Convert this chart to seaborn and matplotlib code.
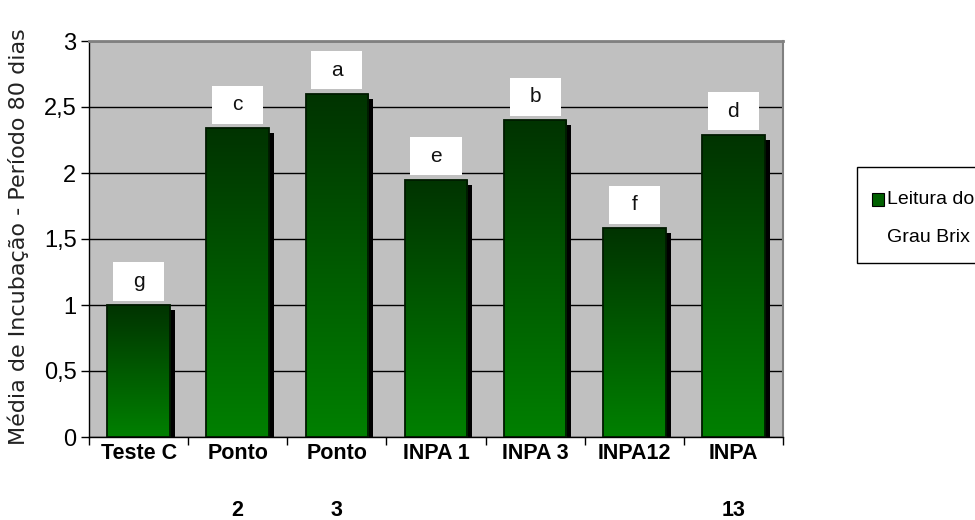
import numpy as np
import pandas as pd
import matplotlib
matplotlib.use("Agg")
import matplotlib.pyplot as plt
import seaborn as sns
from matplotlib.patches import Rectangle
from matplotlib import transforms, font_manager
from matplotlib.colors import LinearSegmentedColormap

# Data
categories = ["Teste C", "Ponto\n2", "Ponto\n3", "INPA 1", "INPA 3", "INPA12", "INPA\n13"]
values = [1.00, 2.34, 2.60, 1.95, 2.40, 1.58, 2.29]
letters = ["g", "c", "a", "e", "b", "f", "d"]
yticks = [0, 0.5, 1, 1.5, 2, 2.5, 3]
ytick_labels = ["0", "0,5", "1", "1,5", "2", "2,5", "3"]
series_name = "Leitura do\nGrau Brix"
ylabel = "Média de Incubação - Período 80 dias"

sns.set_theme(style="white")
installed = {f.name for f in font_manager.fontManager.ttflist}
narrow = "Liberation Sans Narrow" if "Liberation Sans Narrow" in installed else "Liberation Sans"
plt.rcParams["font.family"] = [narrow, "DejaVu Sans"]

W, H = 975, 520
fig = plt.figure(figsize=(W / 100, H / 100), dpi=100)
fig.patch.set_facecolor("white")
ax = fig.add_axes([89 / W, 1 - 437 / H, (783 - 89) / W, (437 - 41) / H])
ax.set_facecolor("#c0c0c0")

df = pd.DataFrame({"Amostra": categories, "Media": values})
sns.barplot(data=df, x="Amostra", y="Media", order=categories, color="#006000",
            saturation=1, width=0.63, ax=ax, errorbar=None)

# Vertical green gradient: dark on top, brighter at the base
grad_cmap = LinearSegmentedColormap.from_list("bar_grad", ["#008000", "#005a00", "#003300"])
grad = np.linspace(0, 1, 256).reshape(-1, 1)
shadow_tf = ax.transData + transforms.ScaledTranslation(5 / 100, -5 / 100, fig.dpi_scale_trans)

for patch, letter in zip(ax.patches, letters):
    x, w, h = patch.get_x(), patch.get_width(), patch.get_height()
    # drop shadow
    ax.add_patch(Rectangle((x, 0), w, h, transform=shadow_tf, facecolor="black",
                           edgecolor="none", zorder=2))
    img = ax.imshow(grad, cmap=grad_cmap, extent=[x, x + w, 0, h], origin="lower",
                    aspect="auto", zorder=2.5)
    img.set_clip_path(patch)
    patch.set_facecolor("none")
    patch.set_edgecolor("#001a00")
    patch.set_linewidth(1.3)
    patch.set_zorder(3)

    # white letter box above the bar
    xc = x + w / 2
    box_bottom = h + 0.034
    box = Rectangle((xc - 0.2575, box_bottom), 0.515, 0.288, facecolor="white",
                    edgecolor="none", zorder=4)
    ax.add_patch(box)
    t = ax.text(xc, box_bottom + 0.144, letter, ha="center", va="center",
                fontsize=15, color="#111111", zorder=5, family="Liberation Sans")
    t.set_clip_path(box)

ax.set_xlim(-0.5, len(categories) - 0.5)
ax.set_ylim(0, 3)

# Gridlines
ax.set_yticks(yticks)
ax.set_yticklabels(ytick_labels)
ax.yaxis.grid(True, color="black", linewidth=1)
ax.xaxis.grid(False)
ax.set_axisbelow(True)

# Spines
ax.spines["left"].set_color("black")
ax.spines["bottom"].set_color("black")
ax.spines["left"].set_linewidth(1)
ax.spines["bottom"].set_linewidth(1)
ax.spines["top"].set_color("#808080")
ax.spines["top"].set_linewidth(2)
ax.spines["right"].set_color("#808080")
ax.spines["right"].set_linewidth(1.5)

# Ticks
ax.tick_params(axis="y", direction="out", length=6, width=1, color="black",
               labelsize=17, pad=3, left=True, labelcolor="black")
ax.set_xticks(np.arange(len(categories)))
ax.set_xticklabels(categories, fontweight="bold", fontsize=15.5, linespacing=3.3,
                   va="top")
ax.set_xticks(np.arange(len(categories) + 1) - 0.5, minor=True)
ax.tick_params(axis="x", which="major", length=0, pad=4, labelcolor="black")
ax.tick_params(axis="x", which="minor", direction="out", length=6, width=1,
               color="black", bottom=True)
ax.set_xlabel("")
ax.set_ylabel("")

fig.text(18 / W, 1 - 237 / H, ylabel, rotation=90, ha="center", va="center",
         fontsize=16, color="#222222", family="DejaVu Sans")

# Legend box
fig.add_artist(Rectangle((857 / W, 1 - 263 / H), 140 / W, 96 / H,
                         transform=fig.transFigure, facecolor="white",
                         edgecolor="black", linewidth=1))
fig.add_artist(Rectangle((872 / W, 1 - 206 / H), 12 / W, 13 / H,
                         transform=fig.transFigure, facecolor="#006000",
                         edgecolor="black", linewidth=0.8))
leg1, leg2 = series_name.split("\n")
fig.text(887 / W, 1 - 199 / H, leg1, ha="left", va="center", fontsize=14, color="black")
fig.text(887 / W, 1 - 238 / H, leg2, ha="left", va="center", fontsize=14, color="black")

fig.savefig("out.png", dpi=100)
